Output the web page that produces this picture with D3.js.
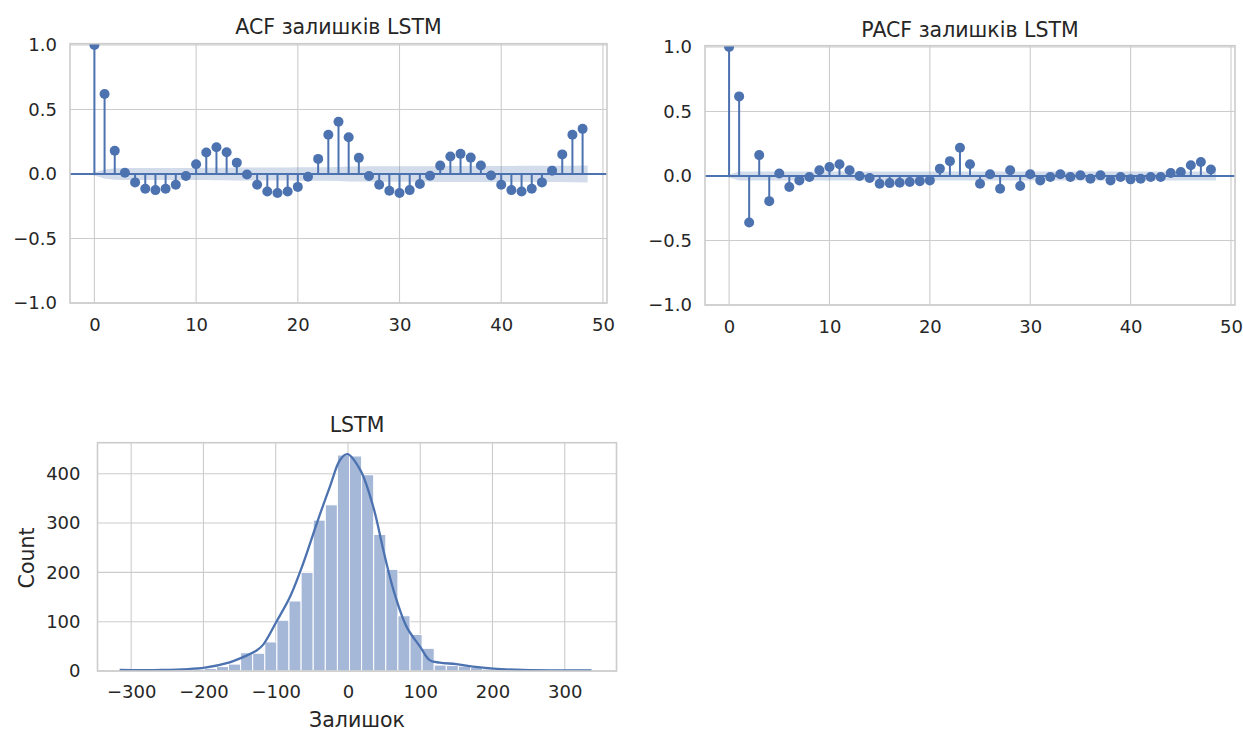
<!DOCTYPE html>
<html><head><meta charset="utf-8">
<script src="https://cdn.jsdelivr.net/npm/d3@7"></script>
<style>
body{margin:0;background:#fff}
text{font-family:'DejaVu Sans',sans-serif;fill:#262626}
</style>
</head><body>
<svg id="c" width="1243" height="733"></svg>
<script>
// ---------- data ----------
const acfLags = [0,1,2,3,4,5,6,7,8,9,10,11,12,13,14,15,16,17,18,19,20,21,22,23,24,25,26,27,28,29,30,31,32,33,34,35,36,37,38,39,40,41,42,43,44,45,46,47,48];
const acfValues = [1.0,0.62,0.18,0.01,-0.065,-0.115,-0.125,-0.115,-0.083,-0.015,0.075,0.166,0.207,0.169,0.088,-0.004,-0.083,-0.135,-0.148,-0.135,-0.1,-0.021,0.117,0.304,0.405,0.285,0.125,-0.015,-0.083,-0.13,-0.148,-0.125,-0.078,-0.013,0.065,0.135,0.156,0.127,0.066,-0.012,-0.083,-0.125,-0.135,-0.115,-0.065,0.026,0.152,0.304,0.35];
const acfConf = [0,0.034,0.045,0.046,0.046,0.046,0.0465,0.047,0.047,0.047,0.047,0.0475,0.048,0.049,0.05,0.05,0.05,0.05,0.051,0.051,0.052,0.052,0.052,0.052,0.054,0.058,0.059,0.06,0.06,0.06,0.061,0.061,0.061,0.061,0.062,0.062,0.062,0.062,0.062,0.062,0.0625,0.0625,0.063,0.063,0.063,0.063,0.063,0.064,0.065];
const pacfValues = [1.0,0.617,-0.36,0.162,-0.195,0.02,-0.086,-0.034,-0.008,0.044,0.07,0.091,0.044,0.0,-0.016,-0.06,-0.055,-0.052,-0.047,-0.04,-0.034,0.057,0.115,0.219,0.091,-0.06,0.013,-0.099,0.044,-0.078,0.013,-0.034,-0.008,0.013,-0.008,0.005,-0.021,0.005,-0.034,-0.008,-0.026,-0.021,-0.008,-0.008,0.023,0.031,0.083,0.109,0.05];
const pacfConf = [0,0.034,0.034,0.034,0.034,0.034,0.034,0.034,0.034,0.034,0.034,0.034,0.034,0.034,0.034,0.034,0.034,0.034,0.034,0.034,0.034,0.034,0.034,0.034,0.034,0.034,0.034,0.034,0.034,0.034,0.034,0.034,0.034,0.034,0.034,0.034,0.034,0.034,0.034,0.034,0.034,0.034,0.034,0.034,0.034,0.034,0.034,0.034,0.034];
const corrXTicks = [0,10,20,30,40,50];
const corrYTicks = [-1.0,-0.5,0.0,0.5,1.0];

const histMin = -316, histMax = 337;
const histCounts = [1,0,1,1,2,3,4,5,9,14,37,36,59,103,142,200,306,337,438,436,398,277,206,112,74,46,12,11,10,7,4,3,2,1,1,1,0,0,1];
const kdePoints = [[-316,2],[-258,2],[-198,7],[-165,17],[-147,27],[-126,42],[-117,54],[-99,100],[-80,151],[-62,218],[-43,300],[-25,374],[-11,428],[-1,440],[17,408],[35,333],[49,245],[63,164],[81,90],[100,49],[113,22],[127,17],[150,14],[173,9],[201,5],[242,2],[311,1],[337,1]];
const histXTicks = [-300,-200,-100,0,100,200,300];
const histYTicks = [0,100,200,300,400];

// ---------- styling ----------
const BLUE = '#4c72b0', GRID = '#cccccc';
const TICK_FS = '18px', LABEL_FS = '20.5px';
const svg = d3.select('#c');
svg.append('rect').attr('width',1243).attr('height',733).attr('fill','#fff');
const fmt1 = d3.format('.1f');

function frameAndGrid(g, x, y, xt, yt, id){
  const [x0,x1] = x.range(), [y0,y1] = y.range();
  g.append('clipPath').attr('id',id).append('rect')
    .attr('x',x0).attr('y',y1).attr('width',x1-x0).attr('height',y0-y1);
  g.selectAll('.gx').data(xt).join('line')
    .attr('x1',d=>x(d)).attr('x2',d=>x(d)).attr('y1',y0).attr('y2',y1)
    .attr('stroke',GRID).attr('stroke-width',1.1);
  g.selectAll('.gy').data(yt).join('line')
    .attr('y1',d=>y(d)).attr('y2',d=>y(d)).attr('x1',x0).attr('x2',x1)
    .attr('stroke',GRID).attr('stroke-width',1.1);
}
function frame(g, x, y){
  const [x0,x1] = x.range(), [y0,y1] = y.range();
  g.append('rect').attr('x',x0).attr('y',y1).attr('width',x1-x0).attr('height',y0-y1)
    .attr('fill','none').attr('stroke',GRID).attr('stroke-width',1.6);
}
function axes(g, x, y, xt, yt, xf, yf, xpad, ypad){
  const [x0,x1] = x.range(), [y0,y1] = y.range();
  const ax = g.append('g').attr('transform',`translate(0,${y0})`)
    .call(d3.axisBottom(x).tickValues(xt).tickSize(0).tickPadding(xpad).tickFormat(xf));
  const ay = g.append('g').attr('transform',`translate(${x0},0)`)
    .call(d3.axisLeft(y).tickValues(yt).tickSize(0).tickPadding(ypad).tickFormat(yf));
  [ax,ay].forEach(a=>{a.select('.domain').remove(); a.selectAll('text').style('font-size',TICK_FS).attr('fill','#262626').style('font-family',"'DejaVu Sans',sans-serif");});
}

function corrPanel(vals, conf, xr, yr, title, titleY, id){
  const x = d3.scaleLinear().domain([-2.4,50.4]).range(xr);
  const y = d3.scaleLinear().domain([-1,1.01]).range(yr);
  const g = svg.append('g');
  frameAndGrid(g, x, y, corrXTicks, corrYTicks, id);
  const inner = g.append('g').attr('clip-path',`url(#${id})`);
  const n = acfLags.length;
  const bandPts = acfLags.map((l,i)=>({l: i===0 ? l-0.5 : (i===n-1 ? l+0.5 : l), h: conf[i]}));
  inner.append('path').datum(bandPts)
    .attr('d', d3.area().x(d=>x(d.l)).y0(d=>y(-d.h)).y1(d=>y(d.h)))
    .attr('fill',BLUE).attr('fill-opacity',0.25);
  inner.append('line').attr('x1',xr[0]).attr('x2',xr[1]).attr('y1',y(0)).attr('y2',y(0))
    .attr('stroke',BLUE).attr('stroke-width',2);
  inner.selectAll('.stem').data(acfLags).join('line')
    .attr('x1',d=>x(d)).attr('x2',d=>x(d)).attr('y1',y(0)).attr('y2',(d,i)=>y(vals[i]))
    .attr('stroke',BLUE).attr('stroke-width',2);
  inner.selectAll('.dot').data(acfLags).join('circle')
    .attr('cx',d=>x(d)).attr('cy',(d,i)=>y(vals[i])).attr('r',5).attr('fill',BLUE);
  frame(g, x, y);
  axes(g, x, y, corrXTicks, corrYTicks, d3.format('d'), fmt1, 15, 13);
  g.append('text').attr('x',(xr[0]+xr[1])/2).attr('y',titleY).attr('text-anchor','middle')
    .style('font-size',LABEL_FS).text(title);
}

corrPanel(acfValues, acfConf, [70,607], [303,43.7], 'ACF залишків LSTM', 34, 'clipA');
corrPanel(pacfValues, pacfConf, [705,1235], [305,45.7], 'PACF залишків LSTM', 37, 'clipP');

// ---------- histogram ----------
(function(){
  const x = d3.scaleLinear().domain([-346.6,371.6]).range([97.5,616.5]);
  const y = d3.scaleLinear().domain([0,463]).range([671,442.7]);
  const g = svg.append('g');
  frameAndGrid(g, x, y, histXTicks, histYTicks, 'clipH');
  const nb = histCounts.length, w = (histMax-histMin)/nb;
  const bins = histCounts.map((c,i)=>({x0: histMin + i*w, x1: histMin + (i+1)*w, c}));
  const inner = g.append('g').attr('clip-path','url(#clipH)');
  inner.selectAll('.bar').data(bins).join('rect')
    .attr('x',d=>x(d.x0)).attr('width',d=>x(d.x1)-x(d.x0))
    .attr('y',d=>y(d.c)).attr('height',d=>y(0)-y(d.c))
    .attr('fill','#a5b8d8').attr('stroke','#fff').attr('stroke-width',1);
  inner.append('path').datum(kdePoints)
    .attr('d', d3.line().x(d=>x(d[0])).y(d=>y(d[1])).curve(d3.curveCatmullRom))
    .attr('fill','none').attr('stroke',BLUE).attr('stroke-width',2.3);
  frame(g, x, y);
  axes(g, x, y, histXTicks, histYTicks, d3.format('d'), d3.format('d'), 14, 17);
  g.append('text').attr('x',357).attr('y',432).attr('text-anchor','middle').style('font-size',LABEL_FS).text('LSTM');
  g.append('text').attr('x',357).attr('y',727).attr('text-anchor','middle').style('font-size',LABEL_FS).text('Залишок');
  g.append('text').attr('transform','translate(34,558) rotate(-90)').attr('text-anchor','middle').style('font-size',LABEL_FS).text('Count');
})();
</script>
</body></html>
